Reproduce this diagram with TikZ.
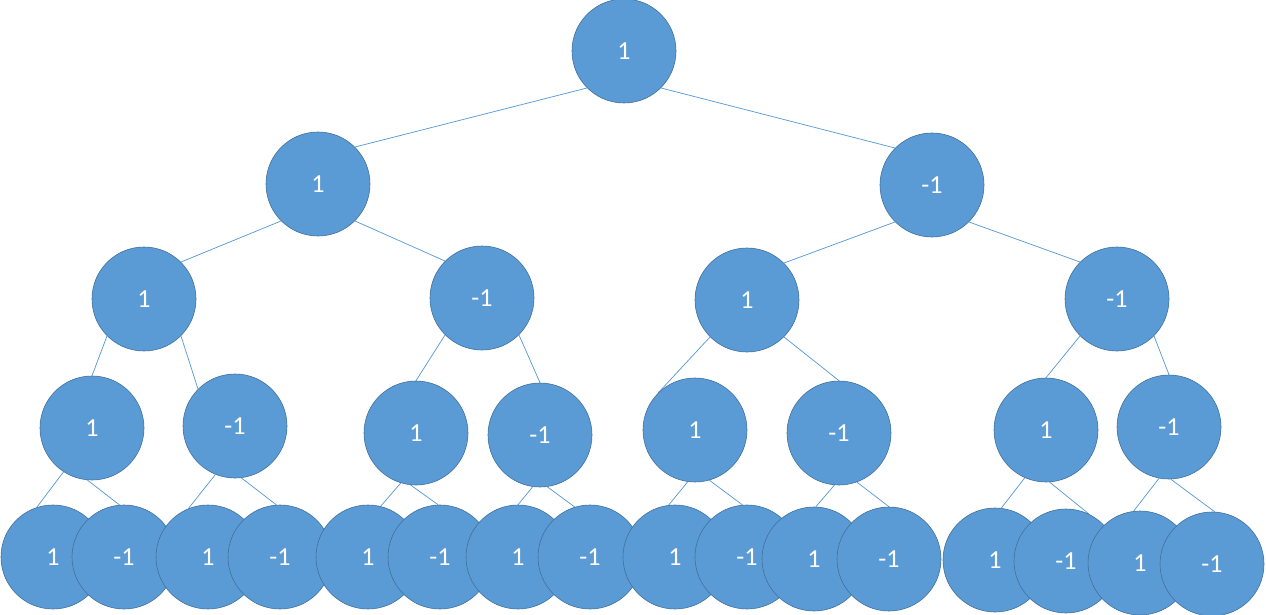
\documentclass[tikz,border=0pt]{standalone}
\usepackage{fontspec}
\setmainfont{Carlito}
\usetikzlibrary{backgrounds}
\definecolor{nodefill}{HTML}{5B9BD5}
\definecolor{nodeline}{HTML}{41719C}
\definecolor{edgecol}{HTML}{5B9BD5}
\begin{document}
\begin{tikzpicture}[x=1pt,y=-1pt,
  tn/.style={circle,minimum size=104pt,inner sep=0pt,fill=nodefill,draw=nodeline,line width=0.6pt,
    text=white,font=\fontsize{26}{30}\selectfont},
  edge/.style={draw=edgecol,line width=0.75pt}]
\useasboundingbox (0,0) rectangle (1266,615);
% level 0
\node[tn] (n0) at (624,51) {1};
% level 1
\node[tn] (n1) at (318,184) {1};
\node[tn] (n2) at (932,185) {-1};
% level 2
\node[tn] (n3) at (144,299) {1};
\node[tn] (n4) at (482,298) {-1};
\node[tn] (n5) at (747,300) {1};
\node[tn] (n6) at (1117,299) {-1};
% level 3
\node[tn] (n7) at (92,428) {1};
\node[tn] (n8) at (235,426) {-1};
\node[tn] (n9) at (416,433) {1};
\node[tn] (n10) at (540,435) {-1};
\node[tn] (n11) at (695,430) {1};
\node[tn] (n12) at (839,433) {-1};
\node[tn] (n13) at (1046,430) {1};
\node[tn] (n14) at (1169,427) {-1};
% leaves
\node[tn] (l1) at (53,557) {1};
\node[tn] (l2) at (124,557) {-1};
\node[tn] (l3) at (208,557) {1};
\node[tn] (l4) at (280,557) {-1};
\node[tn] (l5) at (368,557) {1};
\node[tn] (l6) at (440,557) {-1};
\node[tn] (l7) at (518,557) {1};
\node[tn] (l8) at (590,557) {-1};
\node[tn] (l9) at (675,557) {1};
\node[tn] (l10) at (747,557) {-1};
\node[tn] (l11) at (814,559) {1};
\node[tn] (l12) at (889,559) {-1};
\node[tn] (l13) at (995,560) {1};
\node[tn] (l14) at (1066,561) {-1};
\node[tn] (l15) at (1140,563) {1};
\node[tn] (l16) at (1212,564) {-1};
\begin{scope}[on background layer]
\draw[edge] (n0.225) -- (n1.45);
\draw[edge] (n0.315) -- (n2.135);
\draw[edge] (n1.225) -- (n3.45);
\draw[edge] (n1.315) -- (n4.135);
\draw[edge] (n2.225) -- (n5.45);
\draw[edge] (n2.315) -- (n6.135);
\draw[edge] (n3.225) -- (n7.90);
\draw[edge] (n3.315) -- (n8.135);
\draw[edge] (n4.225) -- (n9.90);
\draw[edge] (n4.315) -- (n10.90);
\draw[edge] (n5.225) -- (n11.135);
\draw[edge] (n5.315) -- (n12.90);
\draw[edge] (n6.225) -- (n13.90);
\draw[edge] (n6.315) -- (n14.90);
\draw[edge] (n7.237) -- (l1.108);
\draw[edge] (n7.265) -- (l2.95);
\draw[edge] (n8.248) -- (l3.112);
\draw[edge] (n8.277) -- (l4.94);
\draw[edge] (n9.253) -- (l5.76);
\draw[edge] (n9.264) -- (l6.92);
\draw[edge] (n10.262) -- (l7.90);
\draw[edge] (n10.278) -- (l8.107);
\draw[edge] (n11.262) -- (l9.97);
\draw[edge] (n11.286) -- (l10.95);
\draw[edge] (n12.265) -- (l11.88);
\draw[edge] (n12.290) -- (l12.90);
\draw[edge] (n13.246) -- (l13.83);
\draw[edge] (n13.274) -- (l14.64);
\draw[edge] (n14.259) -- (l15.97);
\draw[edge] (n14.272) -- (l16.87);
\end{scope}
\end{tikzpicture}
\end{document}
